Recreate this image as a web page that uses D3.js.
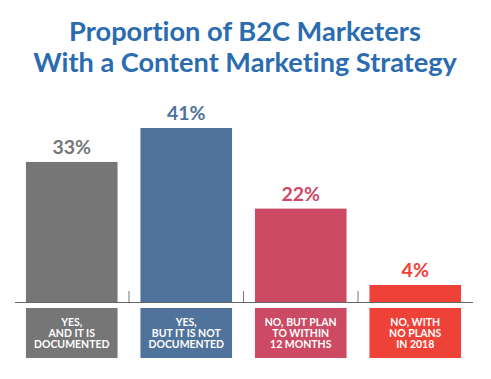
<!DOCTYPE html>
<html><head><meta charset="utf-8">
<script src="https://cdn.jsdelivr.net/npm/d3@7"></script>
<style>html,body{margin:0;padding:0;background:#fff;} text{font-variant-ligatures:none;}</style>
</head><body>
<svg id="c" width="491" height="379"></svg>
<script>
const categories = ["yes_doc", "yes_notdoc", "no_plan", "no_noplan"];
const values = [33, 41, 22, 4];
const valueLabels = ["33%", "41%", "22%", "4%"];
const categoryLabels = [
  ["YES,", "AND IT IS", "DOCUMENTED"],
  ["YES,", "BUT IT IS NOT", "DOCUMENTED"],
  ["NO, BUT PLAN", "TO WITHIN", "12 MONTHS"],
  ["NO, WITH", "NO PLANS", "IN 2018"]
];
const colors = ["#767676", "#50739c", "#cc4a64", "#ee4238"];
const titleLines = ["Proportion of B2C Marketers", "With a Content Marketing Strategy"];

const svg = d3.select("#c");
const baseY = 302;
const x = d3.scaleBand().domain(categories).range([14.5, 472.5]).paddingInner(0.2).paddingOuter(0.1);
const y = d3.scaleLinear().domain([0, 41]).range([baseY, 128]);

// title
const title = svg.append("g").attr("font-family", "Lato, 'Open Sans', sans-serif").attr("font-weight", "bold").attr("fill", "#2b6cb0").attr("text-anchor", "middle");
const targetW = [352, 424];
titleLines.forEach((t, i) => {
  const el = title.append("text").attr("x", 245).attr("y", [41, 72][i]).attr("font-size", 25).text(t);
  const w = el.node().getComputedTextLength();
  el.attr("font-size", 25 * targetW[i] / w);
});

// bars
svg.append("g").selectAll("rect").data(values).join("rect")
  .attr("x", (d, i) => x(categories[i]))
  .attr("width", x.bandwidth())
  .attr("y", d => y(d))
  .attr("height", d => baseY - y(d))
  .attr("fill", (d, i) => colors[i]);

// value labels
svg.append("g").selectAll("text").data(values).join("text")
  .attr("x", (d, i) => x(categories[i]) + x.bandwidth() / 2)
  .attr("y", d => y(d) - 8)
  .attr("text-anchor", "middle")
  .attr("font-family", "Lato, 'Open Sans', sans-serif")
  .attr("font-weight", "bold")
  .attr("font-size", 19.5)
  .attr("fill", (d, i) => colors[i])
  .text((d, i) => valueLabels[i]);

// axis
const axis = d3.axisBottom(x).tickSize(0).tickFormat("");
const ag = svg.append("g").attr("transform", `translate(0,${baseY})`).call(axis);
ag.select(".domain").attr("stroke", "#666").attr("stroke-width", 1.2);
// separator ticks between bands
const seps = categories.slice(1).map(c => x(c) - x.step() * x.paddingInner() / 2);
svg.append("g").selectAll("line").data(seps).join("line")
  .attr("x1", d => d).attr("x2", d => d)
  .attr("y1", baseY - 11).attr("y2", baseY)
  .attr("stroke", "#777").attr("stroke-width", 1);

// category label boxes
const lab = svg.append("g").selectAll("g").data(categories).join("g")
  .attr("transform", d => `translate(${x(d)},308)`);
lab.append("rect").attr("width", x.bandwidth()).attr("height", 50)
  .attr("fill", (d, i) => colors[i]);
lab.each(function(d, i) {
  const g = d3.select(this);
  categoryLabels[i].forEach((l, j) => {
    g.append("text").attr("text-anchor", "middle")
      .attr("font-family", "Lato, 'Open Sans', sans-serif")
      .attr("font-weight", "bold").attr("font-size", 10.5).attr("fill", "#fff")
      .attr("x", x.bandwidth() / 2).attr("y", 17.5 + j * 11.2).text(l);
  });
});
</script>
</body></html>
